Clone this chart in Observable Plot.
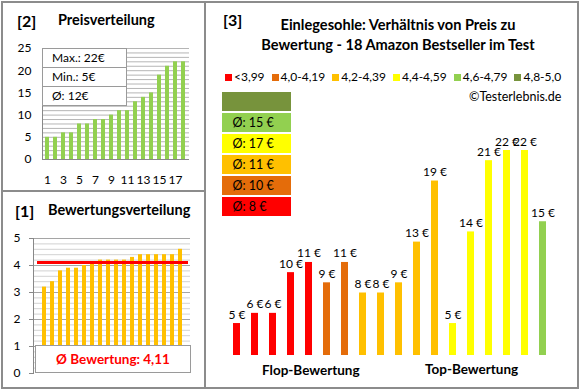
<!DOCTYPE html>
<html><head><meta charset="utf-8">
<script src="https://cdn.jsdelivr.net/npm/d3@7"></script>
<script src="https://cdn.jsdelivr.net/npm/@observablehq/plot@0.6"></script>
<style>
body{margin:0;background:#fff;font-family:Lato,"Open Sans",sans-serif;}
#root{position:relative;width:580px;height:390px;overflow:hidden;background:#fff;color:#000}
.abs{position:absolute;white-space:nowrap}
.ln{position:absolute;background:#8c8c8c}
</style></head><body><div id="root"></div>
<script>
// ---------- data ----------
const ranks = d3.range(1, 19);
// [2] price distribution (sorted)
const sortedPrices = [5,5,6,6,8,8,9,9,10,11,11,13,14,15,19,21,22,22];
// [1] rating distribution (sorted)
const sortedRatings = [3.2,3.4,3.8,3.9,3.9,4.0,4.1,4.2,4.2,4.2,4.2,4.3,4.4,4.4,4.4,4.4,4.4,4.6];
// [3] products ordered by rating: price per product
const productPrices = [5,6,6,10,11,9,11,8,8,9,13,19,5,14,21,22,22,15];
const productRatings = sortedRatings;
const classLabels = ["<3,99","4,0-4,19","4,2-4,39","4,4-4,59","4,6-4,79","4,8-5,0"];
const classThresholds = [4.0,4.2,4.4,4.6,4.8];
const classColors = ["#ff0000","#e46c0a","#ffc000","#ffff00","#92d050","#77933c"];
const priceTicks = [0,5,10,15,20,25];
const priceGrid = d3.range(1,26);
const rankTicks = [1,3,5,7,9,11,13,15,17];
const ratingTicks = [0,1,2,3,4,5];
const ratingGrid = d3.range(1,26).map(d => d/5);
const priceAxisMin = 1.86;

const root = document.getElementById("root");
const fontStyle = {fontFamily:"Lato, sans-serif", fontSize:"12px", background:"transparent", overflow:"visible"};
function place(el, left, top){ const d=document.createElement("div"); d.className="abs"; d.style.left=left+"px"; d.style.top=top+"px"; d.appendChild(el); root.appendChild(d); return d; }
function txt(html, left, top, css){ const d=document.createElement("div"); d.className="abs"; d.style.left=left+"px"; d.style.top=top+"px"; d.innerHTML=html; Object.assign(d.style, css||{}); root.appendChild(d); return d; }
function line(l,t,w,h){ const d=document.createElement("div"); d.className="ln"; Object.assign(d.style,{left:l+"px",top:t+"px",width:w+"px",height:h+"px"}); root.appendChild(d); }

// ---------- [2] Preisverteilung ----------
const priceData = sortedPrices.map((p,i)=>({rank:i+1, price:p}));
const p2 = Plot.plot({
  width:200, height:190, marginLeft:42, marginRight:11, marginTop:48, marginBottom:31,
  style:fontStyle,
  x:{type:"band", domain:ranks, range:[42,188.6], paddingInner:0.45, paddingOuter:0.225},
  y:{domain:[0,25]},
  marks:[
    Plot.ruleY(priceGrid, {stroke:"#b5b5b5"}),
    Plot.barY(priceData, {x:"rank", y:"price", fill:"#92d050"}),
    Plot.ruleY([0], {stroke:"#888"}),
    Plot.frame({anchor:"left", stroke:"#888"}),
    Plot.axisY(priceTicks, {tickSize:0, tickPadding:11, fontSize:12, label:null}),
    Plot.axisX(rankTicks, {tickSize:0, tickPadding:16, fontSize:12, label:null})
  ]
});
place(p2, 0, 0);
txt("[2]", 17, 10, {fontSize:"16px", fontWeight:"bold", lineHeight:"22px"});
txt("Preisverteilung", 58, 10, {fontSize:"14.5px", fontWeight:"bold", lineHeight:"20px"});
const box2 = document.createElement("div");
Object.assign(box2.style,{width:"83px",border:"1px solid #9a9a9a",background:"#fff",fontSize:"12px"});
const stats = [["Max.: ", d3.max(sortedPrices)],["Min.: ", d3.min(sortedPrices)],["Ø: ", Math.round(d3.mean(sortedPrices))]];
stats.forEach((s,i)=>{ const r=document.createElement("div"); r.textContent=s[0]+s[1]+"€"; Object.assign(r.style,{height:"18px",lineHeight:"18px",paddingLeft:"9px",borderTop:i?"1px solid #9a9a9a":"none"}); box2.appendChild(r); });
place(box2, 42, 48);

// ---------- [1] Bewertungsverteilung ----------
const ratingData = sortedRatings.map((r,i)=>({rank:i+1, rating:r}));
const avgRating = d3.mean(sortedRatings);
const p1 = Plot.plot({
  width:200, height:197, marginLeft:33, marginRight:10, marginTop:47, marginBottom:15,
  style:fontStyle,
  x:{type:"band", domain:ranks, range:[34.7,190], paddingInner:0.48, paddingOuter:0.24, axis:null},
  y:{domain:[0,5]},
  marks:[
    Plot.ruleY(ratingGrid, {stroke:"#d2d2d2"}),
    Plot.ruleY(ratingTicks.slice(1), {stroke:"#a5a5a5"}),
    Plot.barY(ratingData, {x:"rank", y:"rating", fill:"#ffc000"}),
    Plot.ruleY([avgRating], {stroke:"#ff0000", strokeWidth:3, insetLeft:4, insetRight:2}),
    Plot.frame({anchor:"left", stroke:"#888"}),
    Plot.axisY(ratingTicks, {tickSize:4, tickPadding:9, fontSize:12, stroke:"#888", label:null})
  ]
});
place(p1, 0, 191);
txt("[1]", 15, 200, {fontSize:"16px", fontWeight:"bold", lineHeight:"22px"});
txt("Bewertungsverteilung", 48, 200, {fontSize:"14.5px", fontWeight:"bold", lineHeight:"20px"});
txt("Ø Bewertung: " + avgRating.toFixed(2).replace(".", ","), 35, 345,
  {width:"154px", height:"26px", lineHeight:"26px", textAlign:"center", border:"1px solid #9a9a9a", background:"#fff",
   color:"#ff0000", fontWeight:"bold", fontSize:"13.5px"});

// ---------- [3] Preis zu Bewertung ----------
const classOf = r => d3.bisectRight(classThresholds, r);
const prodData = productPrices.map((p,i)=>({i:i+1, price:p, cls:classLabels[classOf(productRatings[i])]}));
const p3 = Plot.plot({
  width:373, height:388, marginLeft:16.7, marginRight:20.7, marginTop:150, marginBottom:33,
  style:fontStyle,
  x:{type:"band", domain:ranks, paddingInner:0.6, paddingOuter:0.3, axis:null},
  y:{domain:[priceAxisMin,22], axis:null},
  color:{domain:classLabels, range:classColors},
  marks:[
    Plot.barY(prodData, {x:"i", y1:priceAxisMin, y2:"price", fill:"cls"}),
    Plot.text(prodData, {x:"i", y:"price", text:d=>d.price+" €", dy:-5, lineAnchor:"bottom", fontSize:12, fill:"#000"})
  ]
});
place(p3, 205, 0);

// class averages stack
const classAvg = classLabels.map((c,k)=>{ const ps = prodData.filter(d=>d.cls===c).map(d=>d.price); return {cls:c, avg: ps.length? Math.round(d3.mean(ps)) : null}; });
const stack = Plot.plot({
  width:69, height:130, margin:0, style:fontStyle,
  y:{type:"band", domain:classLabels.slice().reverse(), paddingInner:0.1, paddingOuter:0.05, axis:null},
  color:{domain:classLabels, range:classColors},
  marks:[
    Plot.cell(classAvg, {y:"cls", fill:"cls"}),
    Plot.text(classAvg.filter(d=>d.avg!=null), {y:"cls", text:d=>"Ø: "+d.avg+" €", frameAnchor:"left", dx:10, textAnchor:"start", fontSize:12.5, fill:"#000"})
  ]
});
place(stack, 222, 89);

txt("[3]", 223, 9, {fontSize:"16px", fontWeight:"bold", lineHeight:"22px"});
txt("Einlegesohle: Verhältnis von Preis zu<br>Bewertung - 18 Amazon Bestseller im Test", 248, 15,
  {width:"300px", textAlign:"center", fontSize:"14.6px", fontWeight:"bold", lineHeight:"20px"});
const leg = document.createElement("div");
Object.assign(leg.style,{display:"flex",alignItems:"center",fontSize:"12px",lineHeight:"16px"});
classLabels.forEach((c,k)=>{ const it=document.createElement("span"); Object.assign(it.style,{display:"inline-flex",alignItems:"center",marginRight:k<5?"7px":"0"});
  const sw=document.createElement("span"); Object.assign(sw.style,{display:"inline-block",width:"7px",height:"7px",background:classColors[k],marginRight:"2px"});
  it.appendChild(sw); it.appendChild(document.createTextNode(c)); leg.appendChild(it); });
place(leg, 225, 69);
txt("©Testerlebnis.de", 469, 89, {fontSize:"12.5px", lineHeight:"16px"});
txt("Flop-Bewertung", 262, 361, {fontSize:"13.5px", fontWeight:"bold", lineHeight:"18px"});
txt("Top-Bewertung", 425, 360, {fontSize:"13.5px", fontWeight:"bold", lineHeight:"18px"});

// frame lines
line(1,1,578,2); line(1,1,2,388); line(1,387,578,2); line(577,1,2,388);
line(204,1,2,388); line(1,190,205,2);
</script></body></html>
